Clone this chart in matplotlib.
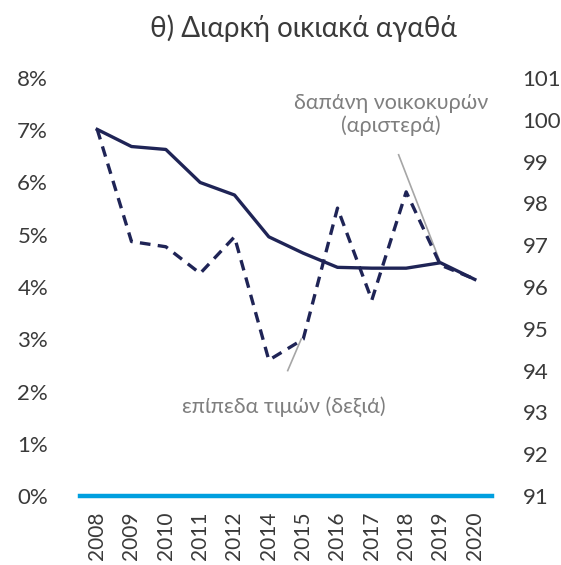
import numpy as np
import matplotlib
matplotlib.use("Agg")
import matplotlib.pyplot as plt

plt.rcParams['font.family'] = ['Lato', 'DejaVu Sans']

# data
years = ['2008', '2009', '2010', '2011', '2012', '2014', '2015',
         '2016', '2017', '2018', '2019', '2020']
# household spending, % (left axis, dashed)
spending = [7.02, 4.87, 4.77, 4.26, 4.96, 2.60, 3.00, 5.51, 3.75, 5.82, 4.42, 4.15]
# price level (right axis, solid)
prices = [99.77, 99.36, 99.29, 98.50, 98.20, 97.20, 96.81, 96.47, 96.45, 96.45, 96.58, 96.18]

navy = '#1f2456'
txt = '#3a3a3a'
x = np.arange(len(years))

fig = plt.figure(figsize=(5.61, 5.65), dpi=100)
ax = fig.add_axes([0.1426, 0.1221, 0.877 - 0.1426, 0.862 - 0.1221])
ax2 = ax.twinx()

ax.plot(x, spending, color=navy, lw=2.4, ls=(0, (3.2, 2.2)), zorder=3)
ax2.plot(x, prices, color=navy, lw=2.4, zorder=3)

ax.set_ylim(0, 8)
ax2.set_ylim(91, 101)
ax.set_xlim(-0.5, len(years) - 0.5)

ax.set_yticks(range(0, 9))
ax.set_yticklabels([f'{i}%' for i in range(0, 9)])
ax2.set_yticks(range(91, 102))

ax.set_xticks(x)
ax.set_xticklabels(years, rotation=90)

for a in (ax, ax2):
    for s in a.spines.values():
        s.set_visible(False)
    a.tick_params(length=0, labelsize=16, colors=txt)
ax.tick_params(axis='y', pad=23)
ax2.tick_params(axis='y', pad=22)
ax.tick_params(axis='x', pad=11, labelsize=15)

# baseline
ax.axhline(0, color='#009fdf', lw=3.2, clip_on=False, zorder=4)

# annotations
grey = '#7f7f7f'
line_c = '#a6a6a6'
ax.text(8.55, 7.3, 'δαπάνη νοικοκυρών\n(αριστερά)', ha='center', va='center',
        fontsize=15.5, color=grey, linespacing=1.15)
ax.plot([8.78, 10.0], [6.53, 4.46], color=line_c, lw=1.2, zorder=2)
ax.plot([5.55, 5.94], [2.40, 3.00], color=line_c, lw=1.2, zorder=2)
ax.text(5.45, 1.72, 'επίπεδα τιμών (δεξιά)', ha='center', va='center',
        fontsize=15.5, color=grey)

fig.suptitle('θ) Διαρκή οικιακά αγαθά', x=0.54, y=0.975, fontsize=20, color=txt)

plt.savefig('out.png', dpi=100)
